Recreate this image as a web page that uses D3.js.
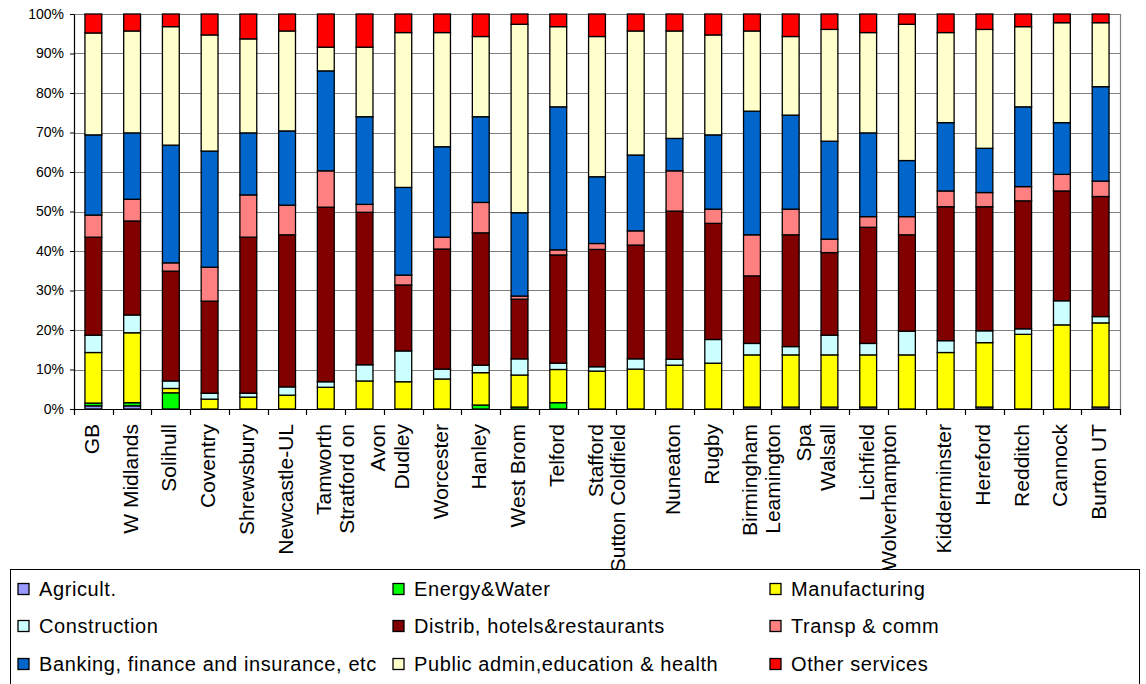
<!DOCTYPE html>
<html>
<head>
<meta charset="utf-8">
<script src="https://cdn.jsdelivr.net/npm/d3@7/dist/d3.min.js"></script>
<style>
  html, body { margin: 0; padding: 0; background: #fff; }
  svg { display: block; font-family: "Liberation Sans", Arial, sans-serif; }
</style>
</head>
<body>
<svg id="chart" width="1146" height="684"></svg>
<script>
// Employment share by sector, per area (percent of employees)
const categories = ["GB", "W Midlands", "Solihull", "Coventry", "Shrewsbury", "Newcastle-UL",
  "Tamworth", "Stratford on Avon", "Dudley", "Worcester", "Hanley", "West Brom", "Telford",
  "Stafford", "Sutton Coldfield", "Nuneaton", "Rugby", "Birmingham", "Leamington Spa",
  "Walsall", "Lichfield", "Wolverhampton", "Kidderminster", "Hereford", "Redditch",
  "Cannock", "Burton UT"];

// Axis label lines as wrapped under each bar
const categoryLines = [["GB"], ["W Midlands"], ["Solihull"], ["Coventry"], ["Shrewsbury"],
  ["Newcastle-UL"], ["Tamworth"], ["Stratford on", "Avon"], ["Dudley"], ["Worcester"],
  ["Hanley"], ["West Brom"], ["Telford"], ["Stafford"], ["Sutton Coldfield", ""],
  ["Nuneaton"], ["Rugby"], ["Birmingham"], ["Leamington", "Spa"], ["Walsall"],
  ["Lichfield"], ["Wolverhampton", ""], ["Kidderminster"], ["Hereford"], ["Redditch"],
  ["Cannock"], ["Burton UT"]];

const seriesNames = ["Agricult.", "Energy&Water", "Manufacturing", "Construction",
  "Distrib, hotels&restaurants", "Transp & comm", "Banking, finance and insurance, etc",
  "Public admin,education & health", "Other services"];

const seriesColors = ["#9999FF", "#00FF00", "#FFFF00", "#CCFFFF", "#800000",
  "#FF8080", "#0066CC", "#FFFFCC", "#FF0000"];

const agricult    = [0.8, 0.8, 0, 0, 0, 0, 0, 0, 0, 0, 0, 0, 0, 0, 0, 0, 0, 0.5, 0.5, 0.5, 0.5, 0, 0, 0.5, 0, 0, 0.5];
const energyWater = [0.7, 0.8, 4.1, 0, 0, 0, 0, 0, 0, 0, 1.0, 0.5, 1.6, 0, 0, 0, 0, 0, 0, 0, 0, 0, 0, 0, 0, 0, 0];
const manufacturing = [12.8, 17.7, 1.1, 2.5, 3.0, 3.5, 5.5, 7.1, 6.9, 7.6, 8.2, 8.1, 8.4, 9.6, 10.1, 11.1, 11.6, 13.2, 13.2, 13.2, 13.2, 13.7, 14.3, 16.3, 18.9, 21.3, 21.3];
const construction = [4.4, 4.5, 1.9, 1.5, 1.0, 2.1, 1.4, 4.1, 7.8, 2.5, 1.9, 4.1, 1.6, 1.1, 2.6, 1.5, 6.0, 2.9, 2.1, 5.0, 2.9, 6.0, 3.0, 3.0, 1.4, 6.1, 1.6];
const distrib     = [24.8, 23.8, 27.8, 23.3, 39.5, 38.5, 44.2, 38.6, 16.7, 30.4, 33.5, 15.1, 27.4, 29.7, 28.8, 37.5, 29.4, 17.1, 28.3, 20.9, 29.4, 24.4, 33.9, 31.4, 32.4, 27.8, 30.4];
const transpComm  = [5.6, 5.5, 2.1, 8.6, 10.7, 7.5, 9.2, 2.0, 2.5, 3.0, 7.7, 0.8, 1.3, 1.5, 3.6, 10.2, 3.6, 10.4, 6.5, 3.4, 2.7, 4.6, 4.0, 3.6, 3.6, 4.2, 3.9];
const banking     = [20.3, 16.8, 29.8, 29.4, 15.7, 18.8, 25.3, 22.2, 22.2, 22.9, 21.7, 21.1, 36.2, 16.9, 19.2, 8.2, 18.8, 31.3, 23.8, 24.8, 21.2, 14.2, 17.3, 11.2, 20.2, 13.1, 23.9];
const publicAdmin = [25.8, 25.8, 30.0, 29.4, 23.8, 25.3, 6.0, 17.6, 39.2, 28.9, 20.3, 47.7, 20.3, 35.5, 31.4, 27.2, 25.3, 20.3, 19.9, 28.3, 25.4, 34.5, 22.8, 30.1, 20.3, 25.3, 16.2];
const otherServices = [4.8, 4.3, 3.2, 5.3, 6.3, 4.3, 8.4, 8.4, 4.7, 4.7, 5.7, 2.6, 3.2, 5.7, 4.3, 4.3, 5.3, 4.3, 5.7, 3.9, 4.7, 2.6, 4.7, 3.9, 3.2, 2.2, 2.2];

const yTickValues = [0, 0.1, 0.2, 0.3, 0.4, 0.5, 0.6, 0.7, 0.8, 0.9, 1.0];
const yTickLabels = ["0%", "10%", "20%", "30%", "40%", "50%", "60%", "70%", "80%", "90%", "100%"];

const seriesValues = [agricult, energyWater, manufacturing, construction, distrib,
  transpComm, banking, publicAdmin, otherServices];

// Build rows for d3.stack
const rows = categories.map((c, i) => {
  const r = { category: c };
  seriesNames.forEach((s, k) => { r[s] = seriesValues[k][i]; });
  return r;
});

const stack = d3.stack().keys(seriesNames).offset(d3.stackOffsetExpand);
const layers = stack(rows);

const svg = d3.select("#chart");
svg.append("rect").attr("width", 1146).attr("height", 684).attr("fill", "#fff");

const plot = { left: 74, right: 1120, top: 14, bottom: 409 };

const x = d3.scaleBand().domain(categories).range([plot.left, plot.right]).paddingInner(0.565).paddingOuter(0.2825);
const xEdges = d3.scaleBand().domain(categories).range([plot.left, plot.right]).padding(0);
const y = d3.scaleLinear().domain([0, 1]).range([plot.bottom, plot.top]);

// Gridlines
svg.append("g")
  .selectAll("line")
  .data(yTickValues.slice(1))
  .join("line")
  .attr("x1", plot.left).attr("x2", plot.right)
  .attr("y1", d => Math.round(y(d)) + 0.5).attr("y2", d => Math.round(y(d)) + 0.5)
  .attr("stroke", "#808080").attr("stroke-width", 1.2);

// Right border of plot area
svg.append("line")
  .attr("x1", plot.right + 0.5).attr("x2", plot.right + 0.5)
  .attr("y1", plot.top).attr("y2", plot.bottom)
  .attr("stroke", "#808080").attr("stroke-width", 1.2);

// Stacked bars
svg.append("g")
  .selectAll("g")
  .data(layers)
  .join("g")
  .attr("fill", (d, i) => seriesColors[i])
  .selectAll("rect")
  .data(d => d)
  .join("rect")
  .attr("x", d => x(d.data.category))
  .attr("width", x.bandwidth())
  .attr("y", d => y(d[1]))
  .attr("height", d => Math.max(0, y(d[0]) - y(d[1])))
  .attr("stroke", "#000")
  .attr("stroke-width", 1.3);

// Y axis
const yAxis = d3.axisLeft(y)
  .tickValues(yTickValues)
  .tickFormat((d, i) => yTickLabels[i])
  .tickSizeInner(4).tickSizeOuter(0).tickPadding(6);
const gy = svg.append("g").attr("transform", `translate(${plot.left},0)`).call(yAxis);
gy.select(".domain").attr("stroke", "#000").attr("stroke-width", 1.2);
gy.selectAll(".tick line").attr("stroke", "#000");
gy.selectAll(".tick text")
  .attr("font-size", 14).attr("fill", "#000")
  .attr("font-family", "'Liberation Sans', Arial, sans-serif");

// X axis: band-edge ticks
const edgeValues = categories.map(c => xEdges(c)).concat([plot.right]);
const gx = svg.append("g");
gx.append("line")
  .attr("x1", plot.left).attr("x2", plot.right)
  .attr("y1", plot.bottom + 0.5).attr("y2", plot.bottom + 0.5)
  .attr("stroke", "#000").attr("stroke-width", 1.2);
gx.selectAll("line.tick")
  .data(edgeValues)
  .join("line")
  .attr("class", "tick")
  .attr("x1", d => Math.round(d) + 0.5).attr("x2", d => Math.round(d) + 0.5)
  .attr("y1", plot.bottom).attr("y2", plot.bottom + 6)
  .attr("stroke", "#000").attr("stroke-width", 1.2);

// Category labels, rotated, aligned to the top under the axis
const lineGap = 31;
const labels = svg.append("g").attr("font-size", 21).attr("fill", "#000");
categories.forEach((c, i) => {
  const cx = x(c) + x.bandwidth() / 2;
  const lines = categoryLines[i];
  const n = lines.length;
  lines.forEach((t, k) => {
    if (!t) return;
    const off = (k - (n - 1) / 2) * lineGap - (n > 1 ? 3 : 2);
    labels.append("text")
      .attr("transform", `translate(${cx + off},424) rotate(-90)`)
      .attr("text-anchor", "end")
      .attr("dominant-baseline", "central")
      .text(t);
  });
});

// Legend
const legend = svg.append("g");
legend.append("rect")
  .attr("x", 10.5).attr("y", 569.5).attr("width", 1129).attr("height", 140)
  .attr("fill", "#fff").attr("stroke", "#000").attr("stroke-width", 1);
const colX = [18, 393, 770];
const rowY = [589, 626, 664];
seriesNames.forEach((s, i) => {
  const gx0 = colX[i % 3], gy0 = rowY[Math.floor(i / 3)];
  legend.append("rect")
    .attr("x", gx0).attr("y", gy0 - 5.5).attr("width", 11).attr("height", 11)
    .attr("fill", seriesColors[i]).attr("stroke", "#000").attr("stroke-width", 1.3);
  legend.append("text")
    .attr("x", gx0 + 21).attr("y", gy0)
    .attr("dominant-baseline", "central")
    .attr("font-size", 20).attr("letter-spacing", 0.6).attr("fill", "#000")
    .text(s);
});
</script>
</body>
</html>
